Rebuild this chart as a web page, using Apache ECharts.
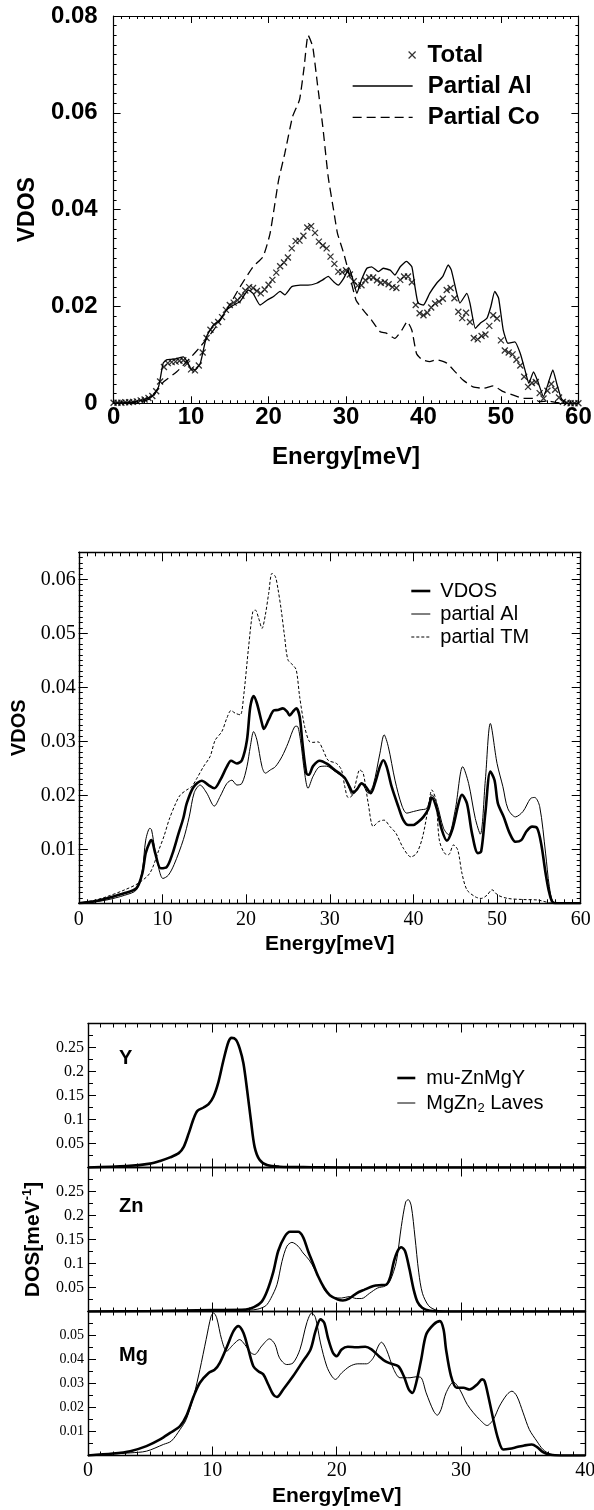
<!DOCTYPE html>
<html>
<head>
<meta charset="utf-8">
<script src="https://cdn.jsdelivr.net/npm/echarts@6/dist/echarts.min.js"></script>
<style>html,body{margin:0;padding:0;background:#fff}#c{width:594px;height:1510px}</style>
</head>
<body>
<div id="c"></div>
<script>
// ---------------- DATA ----------------
// Panel 1 (Energy meV, VDOS)
const p1Total = [[0,0.0001],[0.5,0.0001],[1,0.0001],[1.5,0.0002],[2,0.0002],[2.5,0.0003],[3,0.0004],[3.5,0.0006],[4,0.0008],[4.5,0.0011],[5,0.0015],[5.5,0.0025],[6,0.0045],[6.5,0.0075],[7,0.0083],[7.5,0.0085],[8,0.0086],[8.5,0.0088],[9,0.0089],[9.5,0.0082],[10,0.007],[10.5,0.0068],[11,0.0078],[11.5,0.0105],[12,0.0135],[12.5,0.0152],[13,0.0162],[13.5,0.0168],[14,0.0178],[14.5,0.0193],[15,0.0203],[15.5,0.0208],[16,0.0213],[16.5,0.0222],[17,0.0233],[17.5,0.024],[18,0.0238],[18.5,0.0232],[19,0.0227],[19.5,0.0235],[20,0.0245],[20.5,0.0255],[21,0.027],[21.5,0.0283],[22,0.0291],[22.5,0.0301],[23,0.032],[23.5,0.0335],[24,0.0336],[24.5,0.0346],[25,0.0363],[25.5,0.0366],[26,0.0352],[26.5,0.0334],[27,0.0326],[27.5,0.032],[28,0.0303],[28.5,0.0288],[29,0.0272],[29.5,0.0271],[30,0.0275],[30.5,0.0266],[31,0.0252],[31.5,0.0243],[32,0.0244],[32.5,0.0254],[33,0.026],[33.5,0.026],[34,0.0254],[34.5,0.0249],[35,0.025],[35.5,0.0246],[36,0.024],[36.5,0.0238],[37,0.0255],[37.5,0.0262],[38,0.0262],[38.5,0.025],[39,0.0203],[39.5,0.0186],[40,0.0182],[40.5,0.0187],[41,0.0198],[41.5,0.0206],[42,0.021],[42.5,0.0216],[43,0.0234],[43.5,0.0238],[44,0.0217],[44.5,0.0189],[45,0.0176],[45.5,0.0187],[46,0.0168],[46.5,0.0135],[47,0.0132],[47.5,0.0139],[48,0.0142],[48.5,0.016],[49,0.0182],[49.5,0.0175],[50,0.013],[50.5,0.0109],[51,0.0105],[51.5,0.0101],[52,0.009],[52.5,0.0078],[53,0.0055],[53.5,0.0034],[54,0.0042],[54.5,0.0044],[55,0.0021],[55.5,0.001],[56,0.0026],[56.5,0.004],[57,0.0028],[57.5,0.0012],[58,0.0003],[58.5,0.0001],[59,0],[59.5,0],[60,0]];
const p1Al = [[0,0.0001],[1,0.0001],[2,0.0002],[3,0.0004],[4,0.0008],[5,0.0015],[5.8,0.0034],[6.4,0.0083],[6.9,0.009],[8.1,0.0092],[9.0,0.0096],[9.5,0.0086],[10.1,0.0069],[10.5,0.0069],[11.2,0.0083],[12.0,0.0138],[12.9,0.0162],[13.7,0.0172],[14.6,0.0193],[15.5,0.0203],[16.3,0.021],[17.4,0.0234],[18.0,0.0227],[18.9,0.0203],[19.8,0.0213],[20.6,0.022],[21.5,0.0231],[22.1,0.0224],[23.0,0.0241],[24.1,0.0244],[25.1,0.0244],[26.2,0.0248],[27.0,0.0255],[27.7,0.0262],[28.4,0.0251],[29.0,0.0244],[29.7,0.0258],[30.4,0.0279],[30.9,0.0255],[31.4,0.0227],[32.0,0.0255],[32.7,0.0279],[33.3,0.0282],[34.2,0.0272],[34.8,0.0279],[35.7,0.0275],[36.3,0.0265],[37.0,0.0282],[37.8,0.0293],[38.5,0.0282],[38.9,0.0241],[39.3,0.0207],[40.0,0.0203],[40.8,0.0227],[41.7,0.0248],[42.5,0.0262],[43.2,0.0286],[43.6,0.0275],[44.3,0.0227],[44.7,0.0207],[45.6,0.0227],[46.0,0.0207],[46.7,0.0155],[47.3,0.0165],[48.2,0.0176],[48.7,0.02],[49.2,0.0231],[49.7,0.0217],[50.3,0.0151],[50.9,0.0124],[51.8,0.0127],[52.5,0.0103],[53.1,0.0069],[53.6,0.0041],[54.2,0.0065],[54.7,0.0048],[55.5,0.0014],[56.1,0.0041],[56.7,0.0069],[57.2,0.0041],[57.8,0.001],[58.5,0],[60,0]];
const p1Co = [[0,0],[2,0.0001],[4,0.0005],[5,0.0012],[5.8,0.0032],[6.5,0.0045],[8.15,0.0065],[9.86,0.0093],[11.2,0.0117],[12.9,0.0151],[14.6,0.0193],[16.3,0.024],[18.0,0.0282],[19.3,0.0303],[20.2,0.0351],[21.3,0.0461],[22.1,0.0516],[23.1,0.0592],[24.0,0.0627],[24.6,0.0695],[25.1,0.0761],[25.7,0.0737],[26.3,0.0661],[27.0,0.0572],[27.7,0.0468],[28.4,0.0399],[28.9,0.0351],[29.7,0.031],[30.5,0.0262],[31.3,0.0213],[32.2,0.0193],[33.3,0.0172],[34.4,0.0148],[35.2,0.0145],[36.3,0.0134],[37.2,0.0151],[37.9,0.0169],[38.5,0.0151],[39.1,0.0103],[39.8,0.009],[40.8,0.0086],[41.7,0.009],[43.0,0.0083],[44.1,0.0065],[45.1,0.0048],[46.4,0.0034],[47.7,0.0031],[49.0,0.0036],[50.3,0.0024],[51.6,0.0017],[52.9,0.001],[54.2,0.001],[55.0,0.0003],[56.0,0.0005],[57.0,0.0002],[58,0],[60,0]];

// Panel 2
const p2Vdos = [[0,0],[2,0.0004],[3.3,0.0009],[5.5,0.0019],[6.9,0.0028],[7.6,0.0056],[8.0,0.0093],[8.5,0.0114],[8.7,0.0117],[9.1,0.0095],[9.8,0.0065],[10.5,0.0067],[11.2,0.0092],[11.9,0.0128],[12.5,0.0158],[12.9,0.0185],[13.7,0.0215],[14.7,0.0227],[15.5,0.0219],[16.2,0.0213],[16.9,0.0228],[17.7,0.0253],[18.2,0.0264],[18.9,0.0259],[19.5,0.0265],[20.1,0.0302],[20.5,0.0364],[20.9,0.0384],[21.3,0.037],[21.9,0.0333],[22.1,0.0323],[22.7,0.034],[23.3,0.0357],[23.8,0.0358],[24.4,0.0361],[24.9,0.0355],[25.2,0.0348],[25.6,0.0355],[26.0,0.0361],[26.4,0.0346],[26.7,0.0302],[27.2,0.0241],[27.5,0.0238],[28.0,0.0254],[28.8,0.0264],[29.7,0.0258],[30.5,0.0248],[31.3,0.0239],[31.8,0.0232],[32.3,0.0218],[32.8,0.0205],[33.3,0.0212],[33.8,0.0222],[34.3,0.0216],[34.9,0.0204],[35.4,0.0222],[36.0,0.0253],[36.4,0.0265],[36.8,0.0253],[37.4,0.0216],[38.2,0.0179],[38.8,0.0154],[39.4,0.0145],[40.0,0.0145],[40.6,0.0151],[41.2,0.016],[41.8,0.0175],[42.2,0.0196],[42.8,0.0175],[43.4,0.0136],[44.0,0.0116],[44.7,0.0139],[45.4,0.0185],[45.8,0.0201],[46.4,0.0185],[47.0,0.013],[47.7,0.0093],[48.1,0.0096],[48.6,0.0167],[49.2,0.0244],[49.7,0.0228],[50.1,0.0185],[50.8,0.016],[51.5,0.013],[52.2,0.0114],[52.9,0.0117],[53.5,0.0133],[54.2,0.0142],[54.8,0.0139],[55.3,0.0108],[55.8,0.0056],[56.25,0.0019],[56.7,0.0001],[57.5,0],[60,0]];
const p2Al = [[0,0],[2,0.0003],[3.3,0.0006],[5.5,0.0015],[6.9,0.0025],[7.6,0.0062],[8.0,0.0117],[8.5,0.0139],[8.7,0.0136],[9.1,0.0099],[9.6,0.0062],[10.05,0.0046],[10.7,0.0052],[11.4,0.0072],[12.5,0.0118],[13.2,0.016],[13.8,0.0205],[14.5,0.0219],[15.3,0.0204],[16.2,0.018],[16.9,0.0198],[17.7,0.0222],[18.3,0.0228],[18.9,0.0219],[19.5,0.0222],[20.1,0.0253],[20.5,0.029],[20.9,0.0318],[21.3,0.0302],[21.9,0.0253],[22.3,0.0241],[22.9,0.0247],[23.5,0.0253],[24.3,0.0272],[25.0,0.0296],[25.8,0.0327],[26.1,0.0328],[26.5,0.0302],[27.0,0.0241],[27.4,0.0213],[28.0,0.0235],[28.8,0.0253],[29.6,0.0254],[30.4,0.0247],[31.2,0.0238],[31.8,0.0232],[32.3,0.0213],[32.7,0.0201],[33.3,0.0213],[33.8,0.0222],[34.6,0.0204],[35.2,0.0219],[36.0,0.0278],[36.5,0.0312],[37.0,0.029],[37.8,0.0228],[38.6,0.0182],[39.2,0.0167],[40.0,0.017],[40.8,0.0173],[41.6,0.0176],[42.2,0.0201],[42.8,0.0185],[43.6,0.0139],[44.2,0.0127],[45.0,0.0173],[45.9,0.0253],[46.6,0.0222],[47.4,0.0157],[48.0,0.0128],[48.6,0.0228],[49.2,0.0333],[50.0,0.0259],[50.7,0.0216],[51.3,0.0175],[52.2,0.016],[53.1,0.017],[54.0,0.0194],[54.5,0.0196],[55.1,0.0179],[55.8,0.0093],[56.25,0.0031],[56.7,0.0003],[57.5,0],[60,0]];
const p2TM = [[0,0],[2,0.0006],[3.3,0.0012],[5.5,0.0025],[7.1,0.0037],[8.5,0.0056],[9.6,0.01],[10.2,0.0125],[10.8,0.0155],[11.5,0.0182],[12.1,0.02],[12.9,0.021],[13.5,0.0216],[14.1,0.0231],[14.9,0.0253],[15.7,0.0272],[16.3,0.0302],[17.1,0.0318],[17.7,0.0343],[18.2,0.0357],[18.7,0.0352],[19.3,0.0349],[19.7,0.0383],[20.3,0.0475],[20.8,0.054],[21.1,0.0543],[21.5,0.0528],[21.9,0.0509],[22.3,0.0534],[22.7,0.0574],[23.1,0.0611],[23.5,0.0605],[23.8,0.0583],[24.2,0.0543],[24.6,0.0494],[25.0,0.0451],[25.6,0.0441],[26.0,0.0432],[26.4,0.0383],[27.0,0.0327],[27.6,0.0299],[28.0,0.0298],[28.6,0.0299],[29.2,0.0284],[29.8,0.0265],[30.8,0.0259],[31.4,0.0247],[31.8,0.0216],[32.2,0.0196],[32.6,0.0198],[33.0,0.0216],[33.6,0.0247],[34.0,0.0241],[34.6,0.0185],[35.2,0.0142],[35.8,0.0151],[36.5,0.0154],[37.2,0.0142],[37.9,0.013],[38.8,0.0102],[39.7,0.0086],[40.4,0.0093],[41.1,0.0123],[41.8,0.0179],[42.2,0.021],[42.7,0.0191],[43.1,0.0117],[43.7,0.0093],[44.2,0.009],[44.8,0.0108],[45.3,0.0099],[45.8,0.0056],[46.4,0.0025],[47.4,0.0012],[48.1,0.0009],[48.8,0.0015],[49.4,0.0025],[50.1,0.0015],[51.3,0.0009],[53.1,0.0007],[54.9,0.0006],[56.25,0.0001],[57.5,0],[60,0]];

// Panel 3 (DOS per meV)
const p3YMu = [[0,0],[3.1,0.003],[5.0,0.008],[5.8,0.0135],[6.6,0.021],[7.3,0.03],[7.7,0.043],[8.1,0.071],[8.5,0.102],[8.8,0.118],[9.3,0.125],[9.7,0.132],[10.1,0.148],[10.5,0.179],[10.9,0.224],[11.3,0.262],[11.55,0.27],[11.9,0.266],[12.2,0.248],[12.5,0.217],[12.8,0.161],[13.1,0.099],[13.4,0.043],[13.8,0.016],[14.4,0.005],[15.4,0.0017],[18,0.0005],[20,0],[40,0]];
const p3ZnMu = [[0,0],[5,0.001],[10,0.003],[12.7,0.004],[13.35,0.009],[13.96,0.02],[14.4,0.042],[14.9,0.082],[15.3,0.126],[15.8,0.155],[16.25,0.166],[16.9,0.166],[17.3,0.155],[17.7,0.126],[18.1,0.1],[18.5,0.074],[19.0,0.049],[19.45,0.034],[20.1,0.025],[20.5,0.023],[21.0,0.027],[21.6,0.038],[22.2,0.045],[22.96,0.053],[23.6,0.055],[24.0,0.056],[24.3,0.071],[24.6,0.104],[24.9,0.126],[25.2,0.134],[25.5,0.126],[25.85,0.089],[26.2,0.045],[26.5,0.02],[26.9,0.0073],[27.5,0.0015],[28.5,0],[40,0]];
const p3ZnLaves = [[0,0],[5,0.001],[10,0.002],[13,0.003],[13.66,0.005],[14.3,0.012],[14.7,0.027],[15.2,0.056],[15.6,0.104],[16.0,0.136],[16.4,0.144],[16.9,0.136],[17.3,0.122],[17.8,0.107],[18.2,0.089],[18.7,0.064],[19.1,0.042],[19.8,0.029],[20.4,0.028],[21.0,0.031],[21.6,0.027],[22.0,0.027],[22.65,0.038],[23.3,0.049],[23.9,0.053],[24.3,0.064],[24.8,0.104],[25.2,0.177],[25.55,0.228],[25.76,0.233],[26.0,0.22],[26.3,0.155],[26.6,0.082],[26.9,0.038],[27.4,0.012],[28.0,0.003],[29,0],[40,0]];
const p3MgMu = [[0,0],[2.0,0.0008],[3.4,0.0018],[4.7,0.0039],[5.8,0.0067],[6.6,0.0094],[7.4,0.0122],[7.9,0.0164],[8.5,0.0247],[9.0,0.0303],[9.7,0.0344],[10.2,0.0358],[10.6,0.0386],[11.2,0.0456],[11.7,0.0518],[12.1,0.0539],[12.5,0.0511],[12.9,0.0442],[13.3,0.0372],[13.7,0.0351],[14.1,0.0338],[14.5,0.0296],[14.9,0.0254],[15.2,0.0244],[15.7,0.0275],[16.5,0.0331],[17.2,0.0386],[17.9,0.0442],[18.3,0.0518],[18.7,0.0567],[19.0,0.0553],[19.3,0.049],[19.7,0.0428],[20.0,0.0414],[20.4,0.0442],[20.9,0.0453],[21.6,0.0451],[22.3,0.0453],[22.8,0.0442],[23.4,0.0414],[23.9,0.0393],[24.4,0.0382],[24.96,0.0372],[25.4,0.0331],[25.8,0.0275],[26.1,0.0261],[26.4,0.0303],[26.8,0.04],[27.2,0.0504],[27.8,0.0546],[28.3,0.056],[28.6,0.0525],[28.8,0.0442],[29.2,0.0331],[29.65,0.0282],[30.2,0.0282],[30.7,0.0275],[31.3,0.0296],[31.7,0.0317],[31.9,0.031],[32.2,0.0247],[32.6,0.015],[33.0,0.0067],[33.4,0.0025],[33.9,0.0028],[34.5,0.0035],[35.1,0.0042],[35.7,0.0046],[36.1,0.0036],[36.6,0.0014],[37.2,0.0003],[38,0],[40,0]];
const p3MgLaves = [[0,0],[3.4,0.0011],[4.7,0.0018],[6.06,0.0046],[6.7,0.006],[7.4,0.0108],[7.9,0.015],[8.5,0.0247],[9.0,0.0358],[9.5,0.0483],[9.9,0.058],[10.1,0.0594],[10.35,0.0574],[10.75,0.0483],[11.15,0.0435],[11.7,0.0463],[12.2,0.0483],[12.6,0.0463],[13.1,0.0428],[13.4,0.0421],[13.97,0.0456],[14.6,0.0486],[15.04,0.0463],[15.4,0.0407],[15.98,0.0379],[16.5,0.0386],[17.05,0.0442],[17.6,0.0553],[18.0,0.0594],[18.3,0.0574],[18.7,0.0469],[19.2,0.0372],[19.6,0.0331],[19.9,0.0317],[20.4,0.0344],[21.07,0.0372],[21.7,0.0382],[22.4,0.0382],[22.95,0.0407],[23.35,0.0456],[23.6,0.0472],[24.0,0.0442],[24.6,0.0358],[25.1,0.0324],[25.9,0.0324],[26.4,0.0328],[26.8,0.0324],[27.2,0.0261],[27.8,0.0185],[28.1,0.0168],[28.4,0.0192],[28.8,0.0261],[29.4,0.0306],[29.9,0.0275],[30.5,0.0213],[31.0,0.0178],[31.5,0.015],[32.1,0.0125],[32.6,0.015],[33.1,0.0206],[33.7,0.0254],[34.1,0.0268],[34.5,0.0247],[35.0,0.0178],[35.5,0.0108],[36.1,0.006],[36.6,0.0025],[37.2,0.0006],[38,0],[40,0]];

// Labels
const p1SeriesNames = ['Total', 'Partial Al', 'Partial Co'];
const p2SeriesNames = ['VDOS', 'partial Al', 'partial TM'];
const p3SeriesNames = ['mu-ZnMgY', 'MgZn2 Laves'];
const p3PanelNames = ['Y', 'Zn', 'Mg'];
const energyName = 'Energy[meV]';

// ---------------- STYLE / LAYOUT ----------------
const SANS = '"Liberation Sans", Arial, Helvetica, sans-serif';
const SERIF = '"Liberation Serif", "Times New Roman", serif';
const BLACK = '#000';
const CLEAR = 'rgba(0,0,0,0)';

const grids = [
  {left: 113.6, top: 16, width: 464.8, height: 387.3},
  {left: 78.8, top: 552.3, width: 501.9, height: 351},
  {left: 88, top: 1023.5, width: 497.3, height: 144},
  {left: 88, top: 1167.5, width: 497.3, height: 144},
  {left: 88, top: 1311.5, width: 497.3, height: 144}
].map(g => Object.assign({show: false, containLabel: false, outerBoundsMode: 'none'}, g));

function axisBase(o) {
  return {
    type: 'value', gridIndex: o.grid, position: o.pos, min: o.min, max: o.max, interval: o.interval,
    axisLine: {show: o.line !== false, onZero: false, lineStyle: {color: BLACK, width: o.lw || 1.2}},
    axisTick: {show: o.tick !== false, inside: true, length: o.tickLen || 6, lineStyle: {color: BLACK, width: 1}},
    minorTick: {show: !!o.minor, splitNumber: o.minor || 5, length: o.minorLen || 3, lineStyle: {color: BLACK, width: 1}},
    splitLine: {show: false}, minorSplitLine: {show: false},
    axisLabel: o.label ? Object.assign({show: true, color: BLACK, showMinLabel: true, showMaxLabel: true}, o.label) : {show: false},
    name: o.name || '', nameLocation: 'middle', nameGap: o.nameGap || 0,
    nameTextStyle: o.nameStyle || {}, silent: true, z: 10
  };
}

const fmtP1y = v => (v === 0 ? '0' : v.toFixed(2));
const fmt2y = v => { const k = Math.round(v * 100); return (Math.abs(v * 100 - k) < 1e-6 && k > 0 && k <= 6) ? v.toFixed(2) : ''; };
const fmtYZn = v => (v > 1e-9 && v < 0.299) ? String(+v.toFixed(2)) : '';
const fmtMg = v => (v > 1e-9 && v < 0.0599) ? String(+v.toFixed(2)) : '';

const xAxes = [
  // panel 1
  axisBase({grid: 0, pos: 'bottom', min: 0, max: 60, interval: 10, minor: 10, tickLen: 7, minorLen: 3, lw: 1.2,
    label: {fontFamily: SANS, fontWeight: 'bold', fontSize: 24, margin: 2},
    name: energyName, nameGap: 42, nameStyle: {fontFamily: SANS, fontWeight: 'bold', fontSize: 24, color: BLACK}}),
  axisBase({grid: 0, pos: 'top', min: 0, max: 60, interval: 10, minor: 10, tickLen: 7, minorLen: 3, lw: 1.2}),
  // panel 2
  axisBase({grid: 1, pos: 'bottom', min: 0, max: 60, interval: 10, minor: 10, tickLen: 9, minorLen: 4, lw: 1.4,
    label: {fontFamily: SERIF, fontSize: 20, margin: 6},
    name: energyName, nameGap: 30, nameStyle: {fontFamily: SANS, fontWeight: 'bold', fontSize: 21, color: BLACK}}),
  axisBase({grid: 1, pos: 'top', min: 0, max: 60, interval: 10, minor: 10, tickLen: 9, minorLen: 4, lw: 1.4}),
  // panel 3
  axisBase({grid: 2, pos: 'bottom', min: 0, max: 40, interval: 10, minor: 10, tickLen: 9, minorLen: 4, lw: 1.4}),
  axisBase({grid: 2, pos: 'top', min: 0, max: 40, interval: 10, minor: 10, tickLen: 9, minorLen: 4, lw: 1.4}),
  axisBase({grid: 3, pos: 'bottom', min: 0, max: 40, interval: 10, minor: 10, tickLen: 9, minorLen: 4, lw: 1.4}),
  axisBase({grid: 3, pos: 'top', min: 0, max: 40, interval: 10, minor: 10, tickLen: 9, minorLen: 4, lw: 1.4}),
  axisBase({grid: 4, pos: 'bottom', min: 0, max: 40, interval: 10, minor: 10, tickLen: 9, minorLen: 4, lw: 1.4,
    label: {fontFamily: SERIF, fontSize: 20, margin: 5},
    name: energyName, nameGap: 30, nameStyle: {fontFamily: SANS, fontWeight: 'bold', fontSize: 21, color: BLACK}}),
  axisBase({grid: 4, pos: 'top', min: 0, max: 40, interval: 10, minor: 10, tickLen: 9, minorLen: 4, lw: 1.4})
];

const yAxes = [
  // panel 1: 0,1
  axisBase({grid: 0, pos: 'left', min: 0, max: 0.08, interval: 0.02, minor: 10, tickLen: 7, minorLen: 3, lw: 1.2,
    label: {fontFamily: SANS, fontWeight: 'bold', fontSize: 24, margin: 16, formatter: fmtP1y},
    name: 'VDOS', nameGap: 74, nameStyle: {fontFamily: SANS, fontWeight: 'bold', fontSize: 23, color: BLACK}}),
  axisBase({grid: 0, pos: 'right', min: 0, max: 0.08, interval: 0.02, minor: 10, tickLen: 7, minorLen: 3, lw: 1.2}),
  // panel 2: 2 (major, labels), 3 (minor), 4 (right major), 5 (right minor)
  axisBase({grid: 1, pos: 'left', min: 0, max: 0.065, interval: 0.01, tickLen: 9, lw: 1.4,
    label: {fontFamily: SERIF, fontSize: 20, margin: 3, formatter: fmt2y},
    name: 'VDOS', nameGap: 45, nameStyle: {fontFamily: SANS, fontWeight: 'bold', fontSize: 20, color: BLACK}}),
  axisBase({grid: 1, pos: 'left', min: 0, max: 0.065, interval: 0.001, tickLen: 4, line: false}),
  axisBase({grid: 1, pos: 'right', min: 0, max: 0.065, interval: 0.01, tickLen: 9, lw: 1.4}),
  axisBase({grid: 1, pos: 'right', min: 0, max: 0.065, interval: 0.001, tickLen: 4, line: false}),
  // panel 3 Y: 6,7
  axisBase({grid: 2, pos: 'left', min: 0, max: 0.3, interval: 0.05, minor: 2, tickLen: 8, minorLen: 5, lw: 1.4,
    label: {fontFamily: SERIF, fontSize: 16, margin: 4, formatter: fmtYZn}}),
  axisBase({grid: 2, pos: 'right', min: 0, max: 0.3, interval: 0.05, minor: 2, tickLen: 8, minorLen: 5, lw: 1.4}),
  // panel 3 Zn: 8,9
  axisBase({grid: 3, pos: 'left', min: 0, max: 0.3, interval: 0.05, minor: 2, tickLen: 8, minorLen: 5, lw: 1.4,
    label: {fontFamily: SERIF, fontSize: 16, margin: 4, formatter: fmtYZn},
    name: 'DOS[meV{sup|-1}]', nameGap: 40,
    nameStyle: {fontFamily: SANS, fontWeight: 'bold', fontSize: 21, lineHeight: 24, color: BLACK,
      rich: {sup: {fontFamily: SANS, fontWeight: 'bold', fontSize: 13, lineHeight: 13, verticalAlign: 'top', color: BLACK}}}}),
  axisBase({grid: 3, pos: 'right', min: 0, max: 0.3, interval: 0.05, minor: 2, tickLen: 8, minorLen: 5, lw: 1.4}),
  // panel 3 Mg: 10,11
  axisBase({grid: 4, pos: 'left', min: 0, max: 0.06, interval: 0.01, minor: 2, tickLen: 8, minorLen: 5, lw: 1.4,
    label: {fontFamily: SERIF, fontSize: 14, margin: 4, formatter: fmtMg}}),
  axisBase({grid: 4, pos: 'right', min: 0, max: 0.06, interval: 0.01, minor: 2, tickLen: 8, minorLen: 5, lw: 1.4})
];

const xMark = 'path://M0,0L10,10M10,0L0,10';

function lineSeries(name, data, xi, yi, width, type, smooth) {
  return {
    type: 'line', name: name, data: data, xAxisIndex: xi, yAxisIndex: yi,
    symbol: 'none', showSymbol: false, smooth: smooth, silent: true, animation: false,
    lineStyle: {color: BLACK, width: width, type: type || 'solid'}, itemStyle: {color: BLACK}, z: 3
  };
}

const series = [
  lineSeries(p1SeriesNames[1], p1Al, 0, 0, 1.3, 'solid', 0.15),
  lineSeries(p1SeriesNames[2], p1Co, 0, 0, 1.3, [9, 5], 0.15),
  {
    type: 'scatter', name: p1SeriesNames[0], data: p1Total, xAxisIndex: 0, yAxisIndex: 0,
    symbol: xMark, symbolSize: 6, silent: true, animation: false,
    itemStyle: {color: CLEAR, borderColor: BLACK, borderWidth: 1.3}, z: 4
  },
  lineSeries(p2SeriesNames[2], p2TM, 2, 2, 1, [3, 2], 0.3),
  lineSeries(p2SeriesNames[1], p2Al, 2, 2, 1, 'solid', 0.3),
  lineSeries(p2SeriesNames[0], p2Vdos, 2, 2, 2.6, 'solid', 0.3),
  lineSeries(p3SeriesNames[0], p3YMu, 4, 6, 2.6, 'solid', 0.3),
  lineSeries(p3SeriesNames[1], p3ZnLaves, 6, 8, 1, 'solid', 0.3),
  lineSeries(p3SeriesNames[0], p3ZnMu, 6, 8, 2.6, 'solid', 0.3),
  lineSeries(p3SeriesNames[1], p3MgLaves, 8, 10, 1, 'solid', 0.3),
  lineSeries(p3SeriesNames[0], p3MgMu, 8, 10, 2.6, 'solid', 0.3)
];

// legend entry for a line: hide the default centre symbol, keep the line
const hiddenSym = {color: CLEAR, borderColor: CLEAR, borderWidth: 0, opacity: 0};
function lineItem(name, width, type) {
  return {name: name, itemStyle: hiddenSym, lineStyle: {width: width, type: type, color: BLACK, opacity: 1}};
}

const legends = [
  {
    show: true, selectedMode: false, orient: 'vertical', left: 408, top: 43, padding: 0,
    itemWidth: 7, itemHeight: 7,
    data: [{name: p1SeriesNames[0], icon: xMark, itemStyle: {color: CLEAR, borderColor: BLACK, borderWidth: 1.2}}],
    textStyle: {fontFamily: SANS, fontWeight: 'bold', fontSize: 24, color: BLACK, padding: [0, 0, 0, 7]}
  },
  {
    show: true, selectedMode: false, orient: 'vertical', left: 352, top: 74, padding: 0,
    itemWidth: 60, itemHeight: 14, itemGap: 7.3,
    data: [lineItem(p1SeriesNames[1], 1.3, 'solid'), lineItem(p1SeriesNames[2], 1.3, [9, 5])],
    textStyle: {fontFamily: SANS, fontWeight: 'bold', fontSize: 24, color: BLACK, padding: [0, 0, 0, 10]}
  },
  {
    show: true, selectedMode: false, orient: 'vertical', left: 410, top: 581, padding: 0,
    itemWidth: 19, itemHeight: 10, itemGap: 3,
    data: [lineItem(p2SeriesNames[0], 2.6, 'solid'), lineItem(p2SeriesNames[1], 1, 'solid'), lineItem(p2SeriesNames[2], 1, [3, 2])],
    textStyle: {fontFamily: SANS, fontSize: 20, color: BLACK, padding: [0, 0, 0, 5]}
  },
  {
    show: true, selectedMode: false, orient: 'vertical', left: 396, top: 1066, padding: 0,
    itemWidth: 18, itemHeight: 10, itemGap: 1,
    data: [lineItem(p3SeriesNames[0], 2.6, 'solid'), lineItem(p3SeriesNames[1], 1, 'solid')],
    formatter: n => (n === 'MgZn2 Laves' ? 'MgZn{sub|2} Laves' : n),
    textStyle: {fontFamily: SANS, fontSize: 20, lineHeight: 24, color: BLACK, padding: [0, 0, 0, 6],
      rich: {sub: {fontFamily: SANS, fontSize: 13, lineHeight: 13, verticalAlign: 'bottom', color: BLACK}}}
  }
];

const panelLabelY = [1058, 1206.7, 1355.7];
const graphics = p3PanelNames.map((t, i) => ({
  type: 'text', x: 119, y: panelLabelY[i], silent: true, z: 20,
  style: {text: t, fill: BLACK, font: 'bold 20px ' + SANS, verticalAlign: 'middle', textVerticalAlign: 'middle'}
}));

const chart = echarts.init(document.getElementById('c'), null, {renderer: 'canvas'});
chart.setOption({
  animation: false,
  backgroundColor: '#fff',
  grid: grids,
  xAxis: xAxes,
  yAxis: yAxes,
  legend: legends,
  series: series,
  graphic: graphics
});
</script>
</body>
</html>
